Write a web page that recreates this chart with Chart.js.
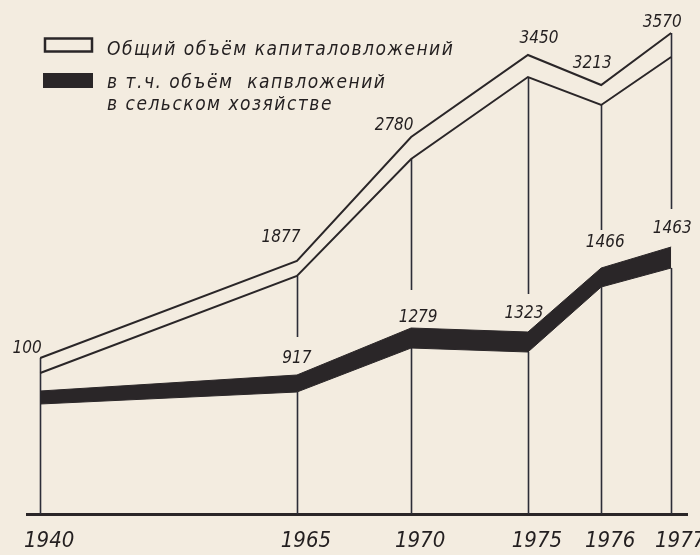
<!DOCTYPE html>
<html lang="ru">
<head>
<meta charset="utf-8">
<title>Капиталовложения</title>
<script src="https://cdn.jsdelivr.net/npm/chart.js@4.4.1/dist/chart.umd.min.js"></script>
<style>
	html,body{margin:0;padding:0;background:#f3ece0;}
	#wrap{width:700px;height:555px;position:relative;}
	canvas{display:block;}
</style>
</head>
<body>
<div id="wrap"><canvas id="chart" width="700" height="555"></canvas></div>
<script>
// Years on the time axis
const years = ['1940','1965','1970','1975','1976','1977'];
// The drawing is schematic: the axis is not to scale, so positions along it are read off the picture (0..100)
const xPos = [2.0, 40.9, 58.2, 75.9, 87.0, 97.6];

// Printed values
const totalValues = [100, 1877, 2780, 3450, 3213, 3570];        // общий объём капиталовложений
const agriValues  = [null, 917, 1279, 1323, 1466, 1463];        // в т.ч. в сельском хозяйстве

// Drawn heights of the bands (0..100 of plot height)
const totalTop   = [31.2, 50.6, 75.4, 91.8, 85.8, 96.2];
const totalInner = [28.2, 47.6, 71.0, 87.4, 81.8, 91.4];
const agriTop    = [24.6, 27.8, 37.2, 36.4, 49.2, 53.4];
const agriBottom = [22.0, 24.4, 33.2, 32.4, 45.4, 49.2];

const INK = '#2a2628';
const LINE = '#2c2d38';

function pts(arr){ return arr.map((v,i)=>({x: xPos[i], y: v})); }

// label nudges (px): [dx, gap above the point]
const totalNudge = [[-13,5],[-16,19],[-17,7],[11,12],[-9,17],[-9,6]];
const agriNudge  = [[0,0],[0,12],[7,6],[-4,14],[4,21],[1,14]];

const drawExtras = {
	id: 'drawExtras',
	beforeDatasetsDraw(chart){
		const ctx = chart.ctx, xs = chart.scales.x, ys = chart.scales.y;
		const base = ys.getPixelForValue(0);
		ctx.save();
		ctx.strokeStyle = LINE; ctx.lineWidth = 1.6;
		xPos.forEach((xv,i)=>{
			const x = Math.round(xs.getPixelForValue(xv)) + 0.5;
			const first = i === 0, last = i === xPos.length-1;
			const top = ys.getPixelForValue((first||last) ? totalTop[i] : totalInner[i]);
			ctx.beginPath();
			if(first){
				ctx.moveTo(x, top); ctx.lineTo(x, base);
			} else {
				const stop = ys.getPixelForValue(agriTop[i]) - 38;
				ctx.moveTo(x, top); ctx.lineTo(x, stop);
				ctx.moveTo(x, ys.getPixelForValue(agriBottom[i])); ctx.lineTo(x, base);
			}
			ctx.stroke();
		});
		ctx.restore();
	},
	afterDatasetsDraw(chart){
		const ctx = chart.ctx, xs = chart.scales.x, ys = chart.scales.y;
		ctx.save();
		ctx.fillStyle = '#231f20';
		ctx.font = 'italic 17px "DejaVu Sans Condensed", "DejaVu Sans", sans-serif';
		ctx.textAlign = 'center'; ctx.textBaseline = 'alphabetic';
		totalValues.forEach((v,i)=>{
			const [dx,gap] = totalNudge[i];
			ctx.fillText(String(v), xs.getPixelForValue(xPos[i]) + dx, ys.getPixelForValue(totalTop[i]) - gap);
		});
		agriValues.forEach((v,i)=>{
			if(v == null) return;
			const [dx,gap] = agriNudge[i];
			ctx.fillText(String(v), xs.getPixelForValue(xPos[i]) + dx, ys.getPixelForValue(agriTop[i]) - gap);
		});

		// legend
		ctx.strokeStyle = INK; ctx.lineWidth = 2.5;
		ctx.strokeRect(45, 38.5, 47, 13);
		ctx.fillStyle = INK;
		ctx.fillRect(43, 73, 50, 15);
		ctx.fillStyle = '#231f20';
		ctx.textAlign = 'left';
		ctx.font = 'italic 19px "DejaVu Sans Condensed", "DejaVu Sans", sans-serif';
		ctx.letterSpacing = '1.5px';
		ctx.fillText('Общий объём капиталовложений', 107, 55);
		ctx.fillText('в т.ч. объём  капвложений', 107, 88);
		ctx.fillText('в сельском хозяйстве', 107, 110);
		ctx.restore();
	}
};

new Chart(document.getElementById('chart'), {
	type: 'line',
	data: {
		datasets: [
			{ label: 'Общий объём капиталовложений', data: pts(totalTop), borderColor: INK, borderWidth: 2, fill: false },
			{ label: 'inner', data: pts(totalInner), borderColor: INK, borderWidth: 2, fill: false },
			{ label: 'agri bottom', data: pts(agriBottom), borderColor: INK, borderWidth: 1, fill: false },
			{ label: 'в т.ч. объём капвложений в сельском хозяйстве', data: pts(agriTop), borderColor: INK, borderWidth: 1, backgroundColor: INK, fill: '-1' }
		]
	},
	options: {
		responsive: false,
		animation: false,
		elements: { point: { radius: 0 }, line: { tension: 0, borderJoinStyle: 'miter' } },
		layout: { padding: { left: 27, right: 13, top: 14, bottom: 0 } },
		plugins: { legend: { display: false }, tooltip: { enabled: false } },
		scales: {
			x: {
				type: 'linear', min: 0, max: 100,
				afterBuildTicks: s => { s.ticks = xPos.map(v=>({value: v})); },
				afterFit: s => { s.height = 41; s.paddingLeft = 0; s.paddingRight = 0; },
				grid: { display: false, drawTicks: false },
				border: { display: true, color: INK, width: 3 },
				ticks: {
					autoSkip: false, maxRotation: 0, padding: 14, labelOffset: 9,
					color: '#231f20',
					font: { family: '"DejaVu Sans Condensed", "DejaVu Sans", sans-serif', size: 22, style: 'italic' },
					callback: (v, i) => years[i]
				}
			},
			y: { display: false, min: 0, max: 100 }
		}
	},
	plugins: [drawExtras]
});
</script>
</body>
</html>
